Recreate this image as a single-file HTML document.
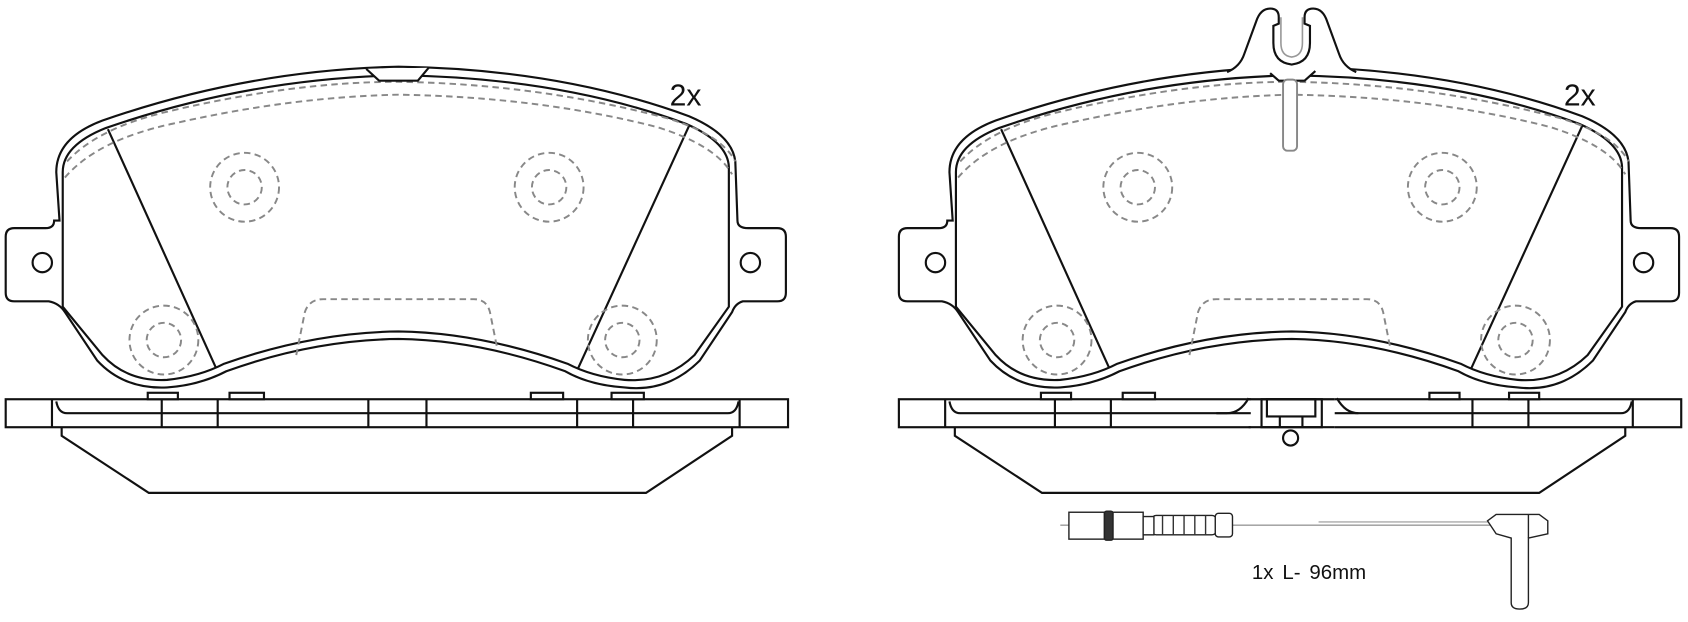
<!DOCTYPE html>
<html><head><style>
html,body{margin:0;padding:0;background:#fff;}
svg{display:block;}
text{font-family:"Liberation Sans",sans-serif;}
</style></head><body>
<svg width="1688" height="622" viewBox="0 0 1568 578" xmlns="http://www.w3.org/2000/svg">
<defs>
<g id="pad">
  <path d="M55,205 L52,160 Q52,128 95,112 Q230,65 370,62 Q520,64 640,108 Q680,125 683,150 L685,205 Q685,212 695,212 L722,212 Q730,212 730,220 L730,272 Q730,280 722,280 L690,280 Q683,282 680,290 L650,335 Q620,365 580,360 Q548,358 525,345 Q445,316 370,315 Q290,316 210,345 Q185,358 155,360 Q115,362 90,335 L60,290 Q55,282 45,280 L13,280 Q5,280 5,272 L5,220 Q5,212 13,212 L42,212 Q50,212 50,205 Z" fill="#fff" stroke="#111" stroke-width="2"/>
  <path d="M58,285 L58,160 Q58,135 98,119 Q230,73 370,70 Q520,72 637,115 Q676,132 677,155 L677,285 L645,330 Q618,356 580,353 Q550,350 527,338 Q445,309 370,308 Q290,309 208,338 Q185,350 155,353 Q118,355 95,330 Z" fill="none" stroke="#111" stroke-width="2"/>
  <circle cx="39" cy="244" r="9" fill="#fff" stroke="#111" stroke-width="2"/>
  <circle cx="697" cy="244" r="9" fill="#fff" stroke="#111" stroke-width="2"/>
  <line x1="100" y1="120" x2="200" y2="341" stroke="#111" stroke-width="2"/>
  <line x1="640" y1="117" x2="537" y2="342" stroke="#111" stroke-width="2"/>
  <g fill="none" stroke="#888" stroke-width="1.8" stroke-dasharray="6,4">
    <path d="M62,150 Q90,120 150,105 Q270,76 370,76 Q500,78 620,110 Q670,125 683,150"/>
    <path d="M60,165 Q90,130 160,115 Q270,90 370,88 Q500,90 610,118 Q665,135 680,162"/>
    <circle cx="227" cy="174" r="32"/><circle cx="227" cy="174" r="16"/>
    <circle cx="510" cy="174" r="32"/><circle cx="510" cy="174" r="16"/>
    <circle cx="152" cy="316" r="32"/><circle cx="152" cy="316" r="16"/>
    <circle cx="578" cy="316" r="32"/><circle cx="578" cy="316" r="16"/>
    <path d="M275,330 L283,290 Q287,278 300,278 L440,278 Q452,278 455,290 L462,325"/>
  </g>
</g>
<g id="side">
  <rect x="5" y="371" width="727" height="26" fill="#fff" stroke="#111" stroke-width="2"/>
  <path d="M57,397 L57,405 L138,458 L600,458 L680,405 L680,397" fill="none" stroke="#111" stroke-width="2"/>
  <path d="M52,373 Q54,384 62,384 L676,384 Q684,384 686,373" fill="none" stroke="#111" stroke-width="2"/>
  <g stroke="#111" stroke-width="2">
    <line x1="48" y1="371" x2="48" y2="397"/><line x1="687" y1="371" x2="687" y2="397"/>
  </g>
</g>
</defs>

<!-- LEFT PAD -->
<use href="#pad"/>
<path d="M340,64 L352,75 L388,75 L398,63" fill="#fff" stroke="#111" stroke-width="2"/>
<text x="622" y="98" font-size="28" fill="#111">2x</text>
<use href="#side"/>
<g stroke="#111" stroke-width="2" fill="#fff">
  <rect x="137" y="365" width="28" height="6"/><rect x="213" y="365" width="32" height="6"/>
  <rect x="493" y="365" width="30" height="6"/><rect x="568" y="365" width="30" height="6"/>
  <line x1="150" y1="371" x2="150" y2="397"/><line x1="202" y1="371" x2="202" y2="397"/>
  <line x1="342" y1="371" x2="342" y2="397"/><line x1="396" y1="371" x2="396" y2="397"/>
  <line x1="536" y1="371" x2="536" y2="397"/><line x1="588" y1="371" x2="588" y2="397"/>
</g>

<!-- RIGHT PAD -->
<g transform="translate(830,0)"><use href="#pad"/></g>
<path d="M1140,67 Q1152,62 1156,50 L1167,20 Q1171,8 1180,8 Q1188,8 1188,16 L1188,22 L1183,24 L1183,40 Q1183,58 1200,60 Q1217,58 1217,40 L1217,24 L1212,22 L1212,16 Q1212,8 1220,8 Q1229,8 1233,20 L1244,50 Q1248,62 1260,67" fill="#fff" stroke="#111" stroke-width="2"/>
<path d="M1180,68 L1188,75 L1212,75 L1222,66" fill="#fff" stroke="#111" stroke-width="2"/>
<path d="M1190,16 L1190,40 Q1190,52 1200,53 Q1210,52 1210,40 L1210,16" fill="none" stroke="#999" stroke-width="1.5"/>
<rect x="1192" y="74" width="13" height="66" rx="4" fill="#fff" stroke="#888" stroke-width="1.8"/>
<text x="1453" y="98" font-size="28" fill="#111">2x</text>
<g transform="translate(830,0)"><use href="#side"/></g>
<g stroke="#111" stroke-width="2" fill="#fff">
  <rect x="967" y="365" width="28" height="6"/><rect x="1043" y="365" width="30" height="6"/>
  <rect x="1328" y="365" width="28" height="6"/><rect x="1402" y="365" width="28" height="6"/>
  <line x1="980" y1="371" x2="980" y2="397"/><line x1="1032" y1="371" x2="1032" y2="397"/>
  <line x1="1368" y1="371" x2="1368" y2="397"/><line x1="1420" y1="371" x2="1420" y2="397"/>
  <rect x="1162" y="369" width="78" height="30" fill="#fff" stroke="none"/>
  <path d="M1160,370 Q1152,384 1140,384 M1242,370 Q1250,384 1262,384" fill="none"/>
  <line x1="1140" y1="384" x2="1130" y2="384"/>
  <rect x="1172" y="371" width="56" height="26" fill="none"/>
  <rect x="1177" y="371" width="45" height="16" fill="none"/>
  <line x1="1189" y1="387" x2="1189" y2="397"/><line x1="1210" y1="387" x2="1210" y2="397"/>
  <line x1="1160" y1="371" x2="1240" y2="371"/><line x1="1160" y1="397" x2="1240" y2="397"/>
  <circle cx="1199" cy="407" r="7"/>
</g>

<!-- SENSOR -->
<g stroke="#222" stroke-width="1.3" fill="#fff">
  <line x1="985" y1="488" x2="1390" y2="488" stroke="#999"/>
  <line x1="1225" y1="485" x2="1390" y2="485" stroke="#aaa"/>
  <rect x="1070" y="479" width="60" height="18" rx="4"/>
  <g stroke="#333"><line x1="1080" y1="479" x2="1080" y2="497"/><line x1="1090" y1="479" x2="1090" y2="497"/><line x1="1100" y1="479" x2="1100" y2="497"/><line x1="1110" y1="479" x2="1110" y2="497"/><line x1="1120" y1="479" x2="1120" y2="497"/></g>
  <rect x="1129" y="477" width="16" height="22" rx="3"/>
  <rect x="993" y="476" width="33" height="25"/>
  <rect x="1026" y="475" width="8" height="27" rx="2" fill="#333"/>
  <rect x="1034" y="476" width="28" height="25"/>
  <rect x="1062" y="480" width="10" height="17"/>
  <path d="M1382,484 L1390,478 L1430,478 L1438,484 L1438,496 L1420,500 L1420,560 Q1420,566 1412,566 Q1404,566 1404,560 L1404,500 L1390,496 Z"/>
  <line x1="1420" y1="478" x2="1420" y2="500"/>
</g>
<text x="1163" y="538" font-size="19" word-spacing="3" fill="#111">1x  L- 96mm</text>
</svg>
</body></html>
